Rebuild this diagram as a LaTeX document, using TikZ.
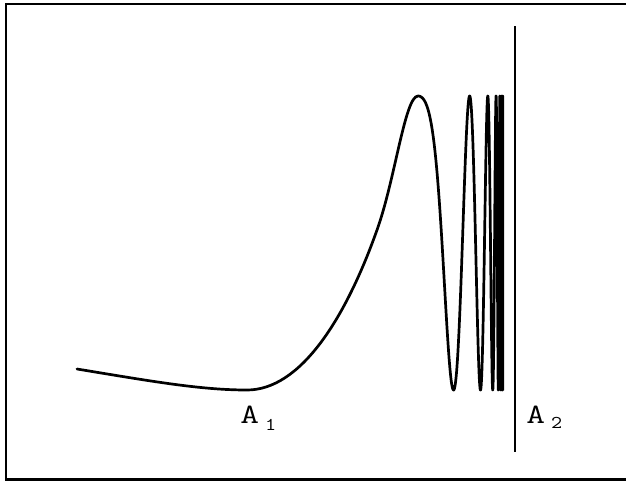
\documentclass[tikz,border=0pt]{standalone}
\usepackage{fontspec}
\tikzset{
  curveline/.style={line width=2.7pt, line join=round, line cap=round},
  frameline/.style={line width=2.4pt},
  barline/.style={line width=2.6pt},
  biglab/.style={inner sep=0pt, anchor=base west, xscale=1.3, font=\ttfamily\fontsize{28}{28}\selectfont},
  sublab/.style={inner sep=0pt, anchor=base west, xscale=1.2, font=\ttfamily\fontsize{18}{18}\selectfont}
}
\begin{document}
\begin{tikzpicture}[x=1pt,y=-1pt]
\useasboundingbox (0,0) rectangle (626,482);
\fill[white] (0,0) rectangle (626,482);
% frame (right edge lies outside the picture)
\draw[frameline] (6,4) rectangle (632,479.5);
% curve
\draw[curveline] (77,369) .. controls (150,381) and (200,390) .. (247,390)
  .. controls (300,390) and (345,320) .. (377,230)
  .. controls (395,180) and (405,96) .. (418,96)
  -- plot[domain=0:48, samples=2000, variable=\t]
     ({503-85*exp(-0.125*\t-0.15*(1-exp(-1.5*\t)))}, {243-147*cos(\t r)});
% vertical line
\coordinate (vtop) at (515,26);
\coordinate (vbot) at (515,452);
\draw[barline] (vtop) -- (vbot);
% labels
\node[biglab] (a1) at (240,423) {A};
\node[sublab] (a1s) at (265,430) {1};
\node[biglab] (a2) at (526,423) {A};
\node[sublab] (a2s) at (551,428) {2};
\end{tikzpicture}
\end{document}
